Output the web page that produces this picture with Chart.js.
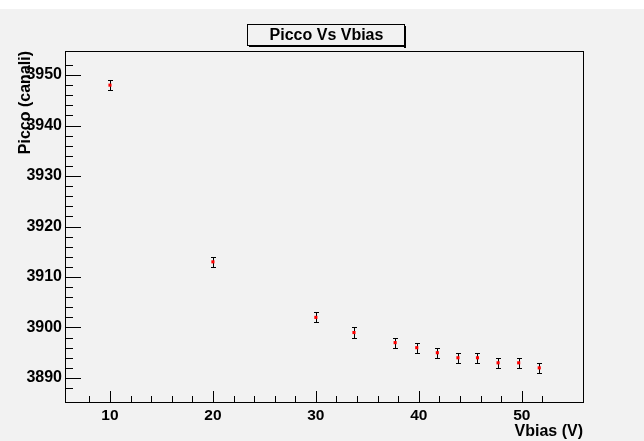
<!DOCTYPE html>
<html>
<head>
<meta charset="utf-8">
<script src="https://cdn.jsdelivr.net/npm/chart.js@4.4.0/dist/chart.umd.min.js"></script>
<style>
    html, body { margin: 0; padding: 0; background: #fff; }
    canvas { display: block; }
</style>
</head>
<body>
<canvas id="piccoChart" width="644" height="441"></canvas>
<script>
// Vbias (V) vs peak position (channels), error +-1 channel
const vbias = [10, 20, 30, 33.7, 37.7, 39.8, 41.8, 43.8, 45.7, 47.7, 49.7, 51.7];
const picco = [3948, 3913, 3902, 3899, 3897, 3896, 3895, 3894, 3894, 3893, 3893, 3892];
const piccoErr = [1, 1, 1, 1, 1, 1, 1, 1, 1, 1, 1, 1];
const xRange = [5.63, 55.95];
const yRange = [3885.24, 3954.76];
const chartTitle = 'Picco Vs Vbias';
const xTitle = 'Vbias (V)';
const yTitle = 'Picco (canali)';

const FONT = '"Liberation Sans", Arial, Helvetica, sans-serif';
const BG = '#f2f2f2';

const background = {
    id: 'background',
    beforeDraw(chart) {
        const { ctx, width, height } = chart;
        ctx.save();
        ctx.fillStyle = '#fff';
        ctx.fillRect(0, 0, width, height);
        ctx.fillStyle = BG;
        ctx.fillRect(0, 9, width, height - 9);
        ctx.restore();
    },
};

const errorBars = {
    id: 'errorBars',
    beforeDatasetsDraw(chart) {
        const { ctx, scales: { x, y } } = chart;
        ctx.save();
        ctx.strokeStyle = '#000';
        ctx.lineWidth = 1;
        ctx.beginPath();
        vbias.forEach((v, i) => {
            const px = Math.round(x.getPixelForValue(v)) + 0.5;
            const top = Math.round(y.getPixelForValue(picco[i] + piccoErr[i])) + 0.5;
            const bot = Math.round(y.getPixelForValue(picco[i] - piccoErr[i])) + 0.5;
            ctx.moveTo(px, top); ctx.lineTo(px, bot);
            ctx.moveTo(px - 2.5, top); ctx.lineTo(px + 2.5, top);
            ctx.moveTo(px - 2.5, bot); ctx.lineTo(px + 2.5, bot);
        });
        ctx.stroke();
        ctx.restore();
    },
};

function isStep(value, step) {
    return Math.abs(value / step - Math.round(value / step)) < 1e-6;
}

const frameAndTicks = {
    id: 'frameAndTicks',
    afterDatasetsDraw(chart) {
        const { ctx, chartArea: a, scales: { x, y } } = chart;
        ctx.save();
        ctx.strokeStyle = '#000';
        ctx.lineWidth = 1;
        ctx.beginPath();
        x.ticks.forEach((t) => {
            if (!isStep(t.value, 2)) return;
            const px = Math.round(x.getPixelForValue(t.value)) + 0.5;
            const len = isStep(t.value, 10) ? 11 : 6;
            ctx.moveTo(px, a.bottom);
            ctx.lineTo(px, a.bottom - len);
        });
        y.ticks.forEach((t) => {
            if (!isStep(t.value, 2)) return;
            const py = Math.round(y.getPixelForValue(t.value)) + 0.5;
            const len = isStep(t.value, 10) ? 16 : 8;
            ctx.moveTo(a.left, py);
            ctx.lineTo(a.left + len, py);
        });
        ctx.stroke();
        ctx.strokeRect(Math.round(a.left) + 0.5, Math.round(a.top) + 0.5,
            Math.round(a.right - a.left), Math.round(a.bottom - a.top));
        ctx.restore();
    },
};

const titleBox = {
    id: 'titleBox',
    afterDraw(chart) {
        const { ctx } = chart;
        const bx = 247, by = 24, bw = 157, bh = 21;
        ctx.save();
        ctx.fillStyle = BG;
        ctx.fillRect(bx, by, bw, bh);
        ctx.fillStyle = '#000';
        ctx.fillRect(bx + bw, by + 2, 2, bh + 1);
        ctx.fillRect(bx + 2, by + bh, bw, 2);
        ctx.strokeStyle = '#000';
        ctx.lineWidth = 1;
        ctx.strokeRect(bx + 0.5, by + 0.5, bw, bh);
        ctx.font = `bold 16px ${FONT}`;
        ctx.textAlign = 'center';
        ctx.textBaseline = 'middle';
        ctx.fillText(chartTitle, bx + bw / 2 + 1, by + bh / 2 + 1);
        ctx.restore();
    },
};

new Chart(document.getElementById('piccoChart'), {
    type: 'scatter',
    data: {
        datasets: [{
            label: chartTitle,
            data: vbias.map((v, i) => ({ x: v, y: picco[i] })),
            pointStyle: 'rect',
            pointRadius: 2.2,
            pointBorderWidth: 0,
            pointBackgroundColor: '#ff0000',
            borderColor: '#ff0000',
            showLine: false,
        }],
    },
    options: {
        responsive: false,
        animation: false,
        devicePixelRatio: 1,
        layout: { padding: { top: 51, right: 61, left: 0, bottom: 0 } },
        plugins: {
            legend: { display: false },
            tooltip: { enabled: false },
        },
        scales: {
            x: {
                type: 'linear',
                min: xRange[0],
                max: xRange[1],
                afterFit(scale) { scale.height = 39; },
                grid: { display: false, drawTicks: false },
                border: { display: false },
                ticks: {
                    stepSize: 2,
                    autoSkip: false,
                    maxRotation: 0,
                    padding: 4,
                    color: '#000',
                    font: { family: FONT, size: 15.5, weight: 'bold' },
                    callback: (value) => (isStep(value, 10) ? String(Math.round(value)) : ''),
                },
                title: {
                    display: true,
                    text: xTitle,
                    align: 'end',
                    color: '#000',
                    font: { family: FONT, size: 16, weight: 'bold' },
                    padding: { top: 0, bottom: 0 },
                },
            },
            y: {
                type: 'linear',
                min: yRange[0],
                max: yRange[1],
                afterFit(scale) { scale.width = 65; },
                grid: { display: false, drawTicks: false },
                border: { display: false },
                ticks: {
                    stepSize: 2,
                    autoSkip: false,
                    padding: 3,
                    color: '#000',
                    font: { family: FONT, size: 16, weight: 'bold' },
                    callback: (value) => (isStep(value, 10) ? String(Math.round(value)) : ''),
                },
                title: {
                    display: true,
                    text: yTitle,
                    align: 'end',
                    color: '#000',
                    font: { family: FONT, size: 16, weight: 'bold' },
                    padding: { top: 16, bottom: 0 },
                },
            },
        },
    },
    plugins: [background, errorBars, frameAndTicks, titleBox],
});
</script>
</body>
</html>
